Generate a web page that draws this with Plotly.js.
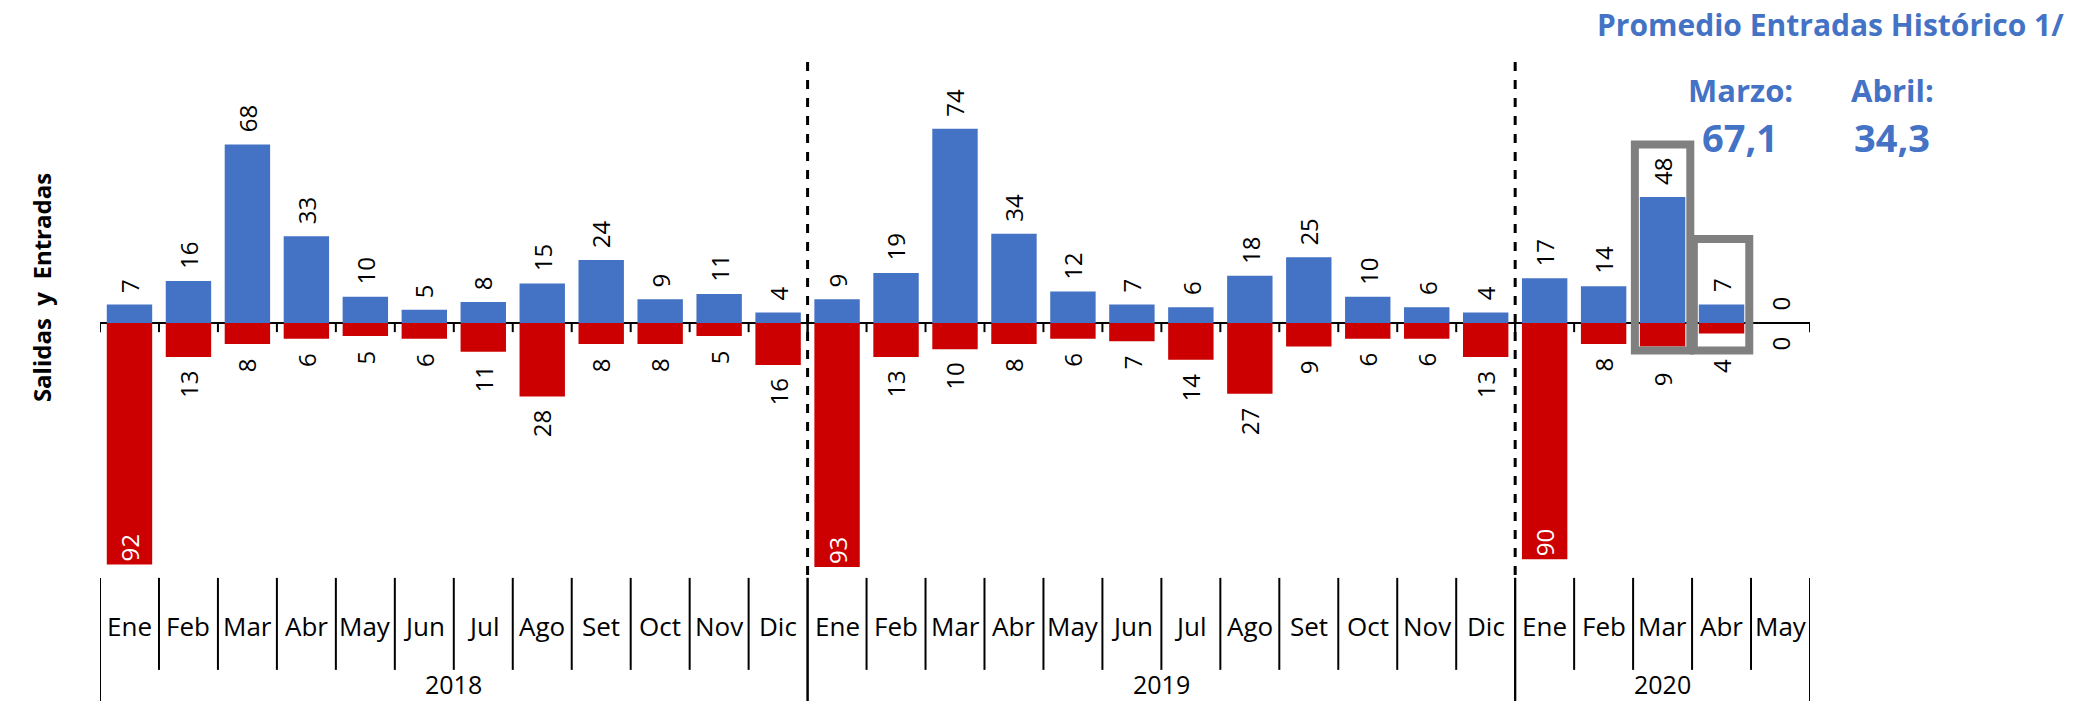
<!DOCTYPE html>
<html>
<head>
<meta charset="utf-8">
<script src="https://cdn.plot.ly/plotly-3.0.1.min.js"></script>
<style>body{margin:0;background:#fff}</style>
</head>
<body>
<div id="plot" style="width:2090px;height:701px"></div>
<script>
let months = ['Ene','Feb','Mar','Abr','May','Jun','Jul','Ago','Set','Oct','Nov','Dic',
              'Ene','Feb','Mar','Abr','May','Jun','Jul','Ago','Set','Oct','Nov','Dic',
              'Ene','Feb','Mar','Abr','May'];
let years = ['2018', '2019', '2020'];
let yearCounts = [12, 12, 5];
let entradas = [7,16,68,33,10,5,8,15,24,9,11,4, 9,19,74,34,12,7,6,18,25,10,6,4, 17,14,48,7,0];
let salidas = [92,13,8,6,5,6,11,28,8,8,5,16, 93,13,10,8,6,7,14,27,9,6,6,13, 90,8,9,4,0];

let idx = months.map((m, i) => i);
let font = 'Open Sans, Liberation Sans, sans-serif';
let blue = '#4472C4';
let lblSize = 24;

let data = [
    {
        x: idx, y: entradas, type: 'bar', width: 0.77,
        marker: {color: blue}, hoverinfo: 'none'
    },
    {
        x: idx, y: salidas.map(v => -v), type: 'bar', width: 0.77,
        marker: {color: '#CC0000'},
        text: salidas.map(v => v > 50 ? String(v) : ''), textposition: 'inside', textangle: -90,
        insidetextanchor: 'end',
        insidetextfont: {family: font, size: lblSize, color: '#fff'},
        hoverinfo: 'none'
    }
];

let shapes = [];
let annotations = [];

// value labels (the two boxed months sit lower, below the box)
idx.forEach(i => {
    annotations.push({x: i, y: entradas[i], xref: 'x', yref: 'y', text: String(entradas[i]),
        showarrow: false, textangle: -90, yanchor: 'bottom', yshift: 10,
        font: {family: font, size: lblSize, color: '#000'}});
    if (salidas[i] <= 50) {
        annotations.push({x: i, y: -salidas[i], xref: 'x', yref: 'y', text: String(salidas[i]),
            showarrow: false, textangle: -90, yanchor: 'top', yshift: (i === 26 || i === 27) ? -24 : -12,
            font: {family: font, size: lblSize, color: '#000'}});
    }
});

// category separators below the axis
let start = 0;
yearCounts.forEach((n, k) => {
    for (let j = 0; j <= n; j++) {
        let xb = start + j - 0.5;
        let edge = (j === 0 || j === n);
        shapes.push({type: 'line', xref: 'x', yref: 'paper', x0: xb, x1: xb,
            y0: -0.005, y1: edge ? -0.23 : -0.165, line: {color: '#000', width: 2}});
        shapes.push({type: 'line', xref: 'x', yref: 'y', x0: xb, x1: xb,
            y0: 0, y1: -3.5, line: {color: '#000', width: 2}});
    }
    annotations.push({x: start + (n - 1) / 2, y: -0.19, xref: 'x', yref: 'paper',
        text: years[k], showarrow: false, yanchor: 'middle',
        font: {family: font, size: 25, color: '#000'}});
    if (k > 0) {
        shapes.push({type: 'line', xref: 'x', yref: 'paper', x0: start - 0.5, x1: start - 0.5,
            y0: 0, y1: 0.906, line: {color: '#000', width: 3, dash: 'dash'}});
    }
    start += n;
});

months.forEach((m, i) => {
    annotations.push({x: i, y: -0.089, xref: 'x', yref: 'paper', text: m, showarrow: false,
        yanchor: 'middle', font: {family: font, size: 26, color: '#000'}});
});

// highlight boxes
[[26, 68], [27, 32]].forEach(b => {
    shapes.push({type: 'rect', xref: 'x', yref: 'y', x0: b[0] - 0.47, x1: b[0] + 0.47,
        y0: -10.5, y1: b[1], line: {color: '#808080', width: 8}});
});

function px(x) { return (x - 100) / 1710; }
function py(y) { return (575 - y) / 575; }
annotations.push({x: px(2066), y: py(24), xref: 'paper', yref: 'paper', text: '<b>Promedio Entradas Histórico 1/</b>',
    showarrow: false, xanchor: 'right', yanchor: 'middle', font: {family: font, size: 30, color: blue}});
annotations.push({x: px(1740), y: py(90), xref: 'paper', yref: 'paper', text: '<b>Marzo:</b>', showarrow: false,
    xanchor: 'center', yanchor: 'middle', font: {family: font, size: 31, color: blue}});
annotations.push({x: px(1892), y: py(90), xref: 'paper', yref: 'paper', text: '<b>Abril:</b>', showarrow: false,
    xanchor: 'center', yanchor: 'middle', font: {family: font, size: 31, color: blue}});
annotations.push({x: px(1740), y: py(137), xref: 'paper', yref: 'paper', text: '<b>67,1</b>', showarrow: false,
    xanchor: 'center', yanchor: 'middle', font: {family: font, size: 38, color: blue}});
annotations.push({x: px(1892), y: py(137), xref: 'paper', yref: 'paper', text: '<b>34,3</b>', showarrow: false,
    xanchor: 'center', yanchor: 'middle', font: {family: font, size: 38, color: blue}});

let layout = {
    width: 2090, height: 701,
    margin: {l: 100, r: 280, t: 0, b: 126},
    barmode: 'relative',
    showlegend: false,
    plot_bgcolor: '#fff', paper_bgcolor: '#fff',
    xaxis: {range: [-0.5, 28.5], showticklabels: false, ticks: '', showgrid: false,
        zeroline: false, showline: false, fixedrange: true},
    yaxis: {range: [-96, 123], showticklabels: false, ticks: '', showgrid: false,
        zeroline: true, zerolinecolor: '#000', zerolinewidth: 2, showline: false,
        title: {text: '<b>Salidas  y  Entradas</b>', standoff: 40,
            font: {family: font, size: 24, color: '#000'}}},
    shapes: shapes,
    annotations: annotations
};

Plotly.newPlot('plot', data, layout, {displayModeBar: false, staticPlot: true});
</script>
</body>
</html>
